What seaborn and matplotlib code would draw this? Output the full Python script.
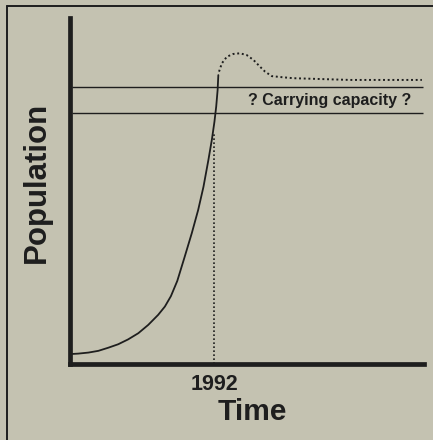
import numpy as np
import pandas as pd
import matplotlib
matplotlib.use("Agg")
import matplotlib.pyplot as plt
import seaborn as sns
from matplotlib.lines import Line2D

# --------------------------------------------------------------
# Data (arbitrary 0-100 units)
# --------------------------------------------------------------
time_growth = [0.6, 2.3, 5.2, 8.0, 10.8, 13.6, 16.4, 19.3, 22.1, 24.9,
               26.8, 28.5, 30.3, 32.4, 34.4, 36.2, 37.7, 39.1, 40.1,
               40.8, 41.3, 41.7, 41.9]
pop_growth = [2.9, 3.0, 3.3, 3.8, 4.7, 5.7, 7.1, 8.9, 11.3, 14.2,
              16.6, 19.6, 24.0, 31.0, 37.8, 44.5, 51.2, 59.0, 65.0,
              70.0, 74.4, 79.2, 83.5]

time_future = [42.1, 42.9, 44.3, 46.1, 48.0, 49.9, 51.8, 53.7, 55.1, 57.0,
               59.8, 63.1, 79.1, 99.4]
pop_future = [84.5, 86.9, 88.8, 89.6, 89.8, 89.3, 87.9, 85.9, 84.5, 83.2,
              82.9, 82.6, 82.1, 82.1]

capacity_levels = [72.5, 80.1]
capacity_span = [0.6, 99.7]
year_pos = 40.8
year_label = "1992"
year_top = 67.0

ink = "#1e1e1e"
paper = "#c4c2b1"

sns.set_theme(style="white")
plt.rcParams["font.family"] = ["Liberation Sans", "DejaVu Sans"]

fig = plt.figure(figsize=(4.33, 4.40), dpi=100, facecolor=paper)
W, H = 433, 440
ax = fig.add_axes([70 / W, 1 - 364 / H, (424 - 70) / W, (364 - 18) / H])
ax.set_facecolor(paper)

df_growth = pd.DataFrame({"time": time_growth, "population": pop_growth})
df_future = pd.DataFrame({"time": time_future, "population": pop_future})

sns.lineplot(data=df_growth, x="time", y="population", ax=ax, color=ink,
             lw=1.3, sort=False, estimator=None, solid_joinstyle="round",
             solid_capstyle="round")
sns.lineplot(data=df_future, x="time", y="population", ax=ax, color=ink,
             lw=1.4, linestyle=(0, (1, 1.4)), sort=False, estimator=None)

# carrying capacity band
ax.hlines(capacity_levels, capacity_span[0], capacity_span[1], color=ink, lw=1.0)
ax.text(73.4, 74.9, "? Carrying capacity ?", ha="center", va="baseline",
        fontsize=11.5, fontweight="bold", color=ink)

# 1992 marker
ax.vlines(year_pos, 0, year_top, color=ink, lw=1.2, linestyle=(0, (1, 1.4)))

ax.set_xlim(0, 100)
ax.set_ylim(0, 100)
ax.set_xticks([year_pos])
ax.set_xticklabels([year_label], fontsize=15.5, fontweight="bold", color=ink)
ax.set_yticks([])
ax.tick_params(axis="x", length=0, pad=7)

ax.set_xlabel("Time", fontsize=21.5, fontweight="bold", color=ink)
ax.xaxis.set_label_coords((252 - 70) / 354, -0.098)
ax.set_ylabel("Population", fontsize=22.5, fontweight="bold", color=ink)
ax.yaxis.set_label_coords(-0.052, 0.526)

for side in ["top", "right"]:
    ax.spines[side].set_visible(False)
for side in ["left", "bottom"]:
    ax.spines[side].set_linewidth(3.4)
    ax.spines[side].set_color(ink)
    ax.spines[side].set_capstyle("projecting")

# page frame from the scan
fig.add_artist(Line2D([7.5 / W, 7.5 / W], [0, 1 - 6.5 / H], color=ink, lw=1.4,
                      transform=fig.transFigure))
fig.add_artist(Line2D([7.5 / W, 1], [1 - 6.5 / H, 1 - 6.5 / H], color=ink, lw=1.4,
                      transform=fig.transFigure))

fig.savefig("out.png", dpi=100, facecolor=paper)
